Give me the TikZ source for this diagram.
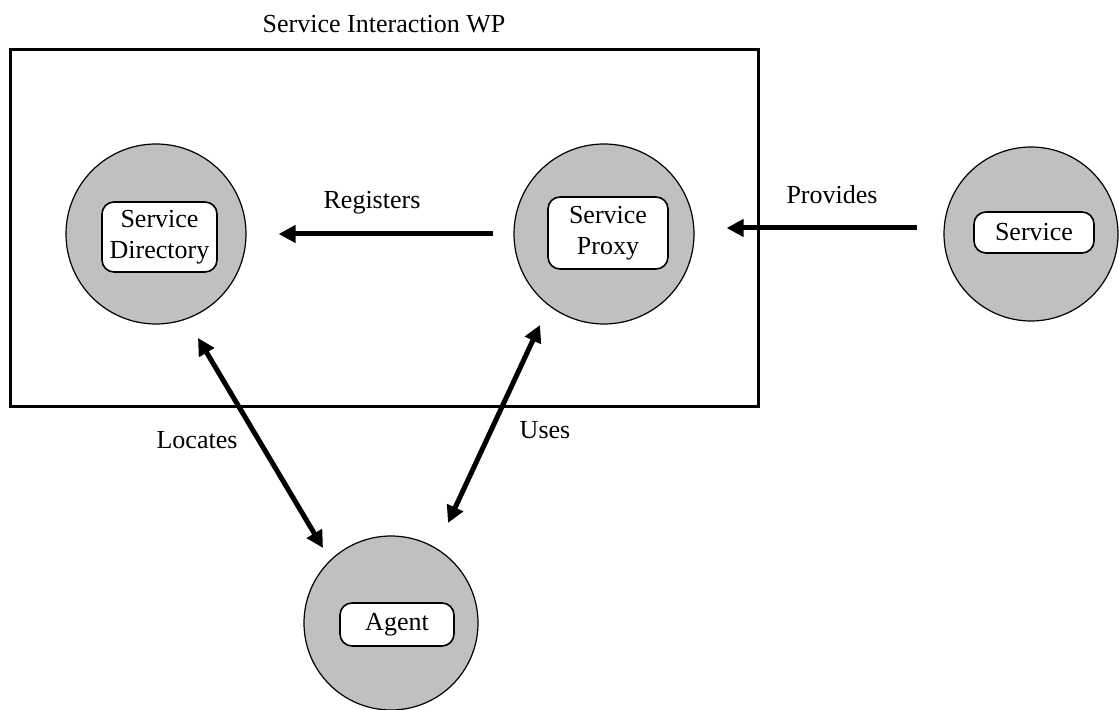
\documentclass[tikz,border=0pt]{standalone}
\usepackage{fontspec}
\setmainfont{Liberation Serif}
\usetikzlibrary{arrows.meta}
\definecolor{circgray}{RGB}{192,192,192}
\begin{document}
\begin{tikzpicture}[x=0.5pt,y=-0.5pt,
  every node/.style={font=\fontsize{13pt}{15.5pt}\selectfont},
  agentc/.style={circle,draw,fill=circgray,line width=0.6pt,inner sep=0pt},
  namebox/.style={draw,fill=white,rounded corners=6pt,line width=0.8pt,inner sep=0pt,align=center},
  frame/.style={draw,line width=1.5pt,inner sep=0pt},
  arr/.style={line width=2.5pt,-{Triangle[length=8.5pt,width=8.5pt]}},
  darr/.style={line width=2.5pt,{Triangle[length=8.5pt,width=8.5pt]}-{Triangle[length=8.5pt,width=8.5pt]}},
  lbl/.style={inner sep=0pt}
]
\useasboundingbox (0,0) rectangle (1119,710);
% frame
\node[frame,minimum width=374pt,minimum height=178.5pt] (wp) at (384,228.5) {};
\node[lbl] (title) at (384,24) {Service Interaction WP};
% circles
\node[agentc,minimum size=90pt] (sd) at (156,234) {};
\node[agentc,minimum size=90pt] (sp) at (604,234) {};
\node[agentc,minimum size=87pt] (s) at (1031,234) {};
\node[agentc,minimum size=87pt] (ag) at (391,623) {};
% name boxes
\node[namebox,minimum width=57.5pt,minimum height=35pt] (sdb) at (159.5,237) {Service\\Directory};
\node[namebox,minimum width=60pt,minimum height=36pt] (spb) at (608,233) {Service\\Proxy};
\node[namebox,minimum width=60pt,minimum height=20.5pt] (sb) at (1034,232.5) {Service};
\node[namebox,minimum width=57pt,minimum height=21.5pt] (agb) at (397,624.5) {Agent};
% arrows
\draw[arr,shorten <=10pt,shorten >=16pt] (sp.west) -- (sd.east);
\draw[arr,shorten <=13pt,shorten >=16pt] ([yshift=3pt]s.west) -- ([yshift=3pt]sp.east);
\coordinate (loc1) at (198,338);
\coordinate (loc2) at (323,548);
\coordinate (use1) at (540,325);
\coordinate (use2) at (448,523);
\draw[darr] (loc1) -- (loc2);
\draw[darr] (use1) -- (use2);
% labels
\node[lbl] (lreg) at (372,203) {Registers};
\node[lbl] (lprov) at (832,195) {Provides};
\node[lbl] (lloc) at (197,440) {Locates};
\node[lbl] (luse) at (545,430) {Uses};
\end{tikzpicture}
\end{document}
